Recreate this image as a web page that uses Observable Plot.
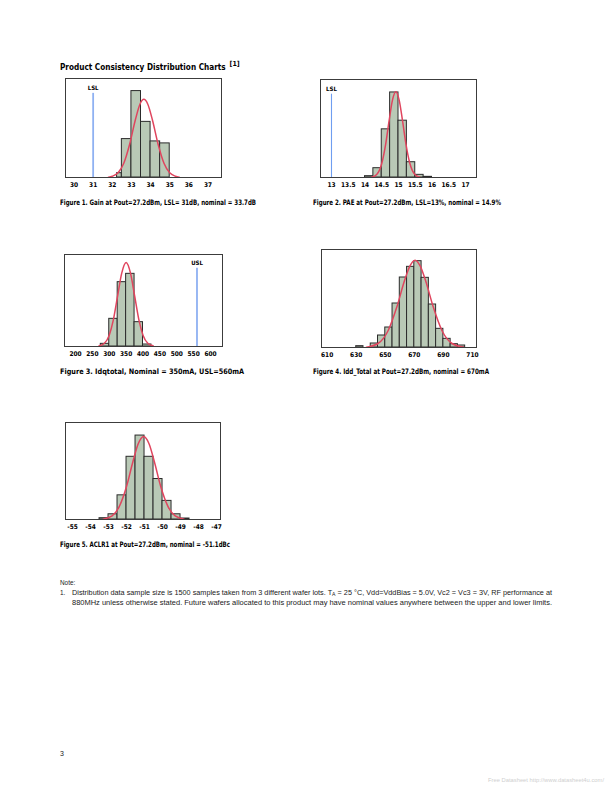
<!DOCTYPE html>
<html>
<head>
<meta charset="utf-8">
<script src="https://cdn.jsdelivr.net/npm/d3@7"></script>
<script src="https://cdn.jsdelivr.net/npm/@observablehq/plot@0.6"></script>
<style>
html, body { margin: 0; padding: 0; background: #fff; }
#page { position: relative; width: 612px; height: 792px; overflow: hidden; background: #fff; }
.chart { position: absolute; }
.chart svg { display: block; overflow: visible; }
#text { position: absolute; left: 0; top: 0; }
</style>
</head>
<body>
<div id="page"></div>
<script>
// ---------- Data ----------
// Figure 1: Gain (dB)
const gainBinStart = [32.25, 32.5, 33, 33.5, 34, 34.5];
const gainBinEnd   = [32.5, 33, 33.5, 34, 34.5, 35];
const gainCounts   = [13, 116, 261, 168, 109, 103];
const gainCurveX   = [31.8, 32.0, 32.3, 32.6, 32.9, 33.2, 33.45, 33.65, 33.85, 34.1, 34.4, 34.7, 35.0, 35.3, 35.5];
const gainCurveY   = [1, 4, 14, 43, 99, 173, 222, 236, 222, 173, 99, 43, 14, 4, 1];
const gainTickLabels = [30, 31, 32, 33, 34, 35, 36, 37];

// Figure 2: PAE (%)
const paeBinStart = [14, 14.25, 14.5, 14.75, 15, 15.25, 15.5, 15.75];
const paeBinEnd   = [14.25, 14.5, 14.75, 15, 15.25, 15.5, 15.75, 16];
const paeCounts   = [4, 28, 145, 256, 171, 46, 8, 2];
const paeCurveX   = [14.2, 14.35, 14.5, 14.62, 14.72, 14.82, 14.92, 15.02, 15.12, 15.22, 15.34, 15.49, 15.64];
const paeCurveY   = [1, 9, 42, 102, 171, 233, 258, 233, 171, 102, 42, 9, 1];
const paeTickLabels = [13, 13.5, 14, 14.5, 15, 15.5, 16, 16.5, 17];

// Figure 3: Idqtotal (mA)
const idqBinStart = [275, 300, 325, 350, 375, 400];
const idqBinEnd   = [300, 325, 350, 375, 400, 425];
const idqCounts   = [8, 83, 193, 218, 73, 6];
const idqCurveX   = [270, 285, 300, 312, 325, 337, 350, 363, 375, 388, 400, 415, 430];
const idqCurveY   = [2, 9, 34, 79, 153, 220, 252, 220, 153, 79, 34, 9, 2];
const idqTickLabels = [200, 250, 300, 350, 400, 450, 500, 550, 600];

// Figure 4: Idd_Total (mA)
const iddBinStart = [630, 640, 645, 650, 655, 660, 665, 670, 675, 680, 685, 690, 695, 700];
const iddBinEnd   = [635, 645, 650, 655, 660, 665, 670, 675, 680, 685, 690, 695, 700, 705];
const iddCounts   = [4, 12, 36, 60, 132, 210, 242, 259, 209, 129, 56, 26, 10, 6];
const iddCurveX   = [637, 645, 652, 658, 663, 667, 670.5, 674, 678, 683, 689, 696, 704];
const iddCurveY   = [1, 12, 51, 122, 197, 245, 262, 245, 197, 122, 51, 12, 1];
const iddTickLabels = [610, 630, 650, 670, 690, 710];

// Figure 5: ACLR1 (dBc)
const aclrBinStart = [-53.5, -53, -52.5, -52, -51.5, -51, -50.5, -50, -49.5, -49];
const aclrBinEnd   = [-53, -52.5, -52, -51.5, -51, -50.5, -50, -49.5, -49, -48.5];
const aclrCounts   = [4, 16, 74, 192, 257, 192, 124, 57, 16, 3];
const aclrCurveX   = [-53.3, -52.8, -52.4, -52.0, -51.65, -51.35, -51.05, -50.75, -50.45, -50.1, -49.7, -49.3, -48.8];
const aclrCurveY   = [1, 11, 40, 101, 176, 232, 254, 232, 176, 101, 40, 11, 1];
const aclrTickLabels = [-55, -54, -53, -52, -51, -50, -49, -48, -47];

const captions = [
  "Figure 1. Gain at Pout=27.2dBm, LSL= 31dB, nominal = 33.7dB",
  "Figure 2. PAE at Pout=27.2dBm, LSL=13%, nominal = 14.9%",
  "Figure 3. Idqtotal, Nominal = 350mA, USL=560mA",
  "Figure 4. Idd_Total at Pout=27.2dBm, nominal = 670mA",
  "Figure 5. ACLR1 at Pout=27.2dBm, nominal = -51.1dBc"
];

// ---------- Styles ----------
const COND = '"Liberation Sans Narrow","DejaVu Sans Condensed","Roboto Condensed",sans-serif';
const REG = '"Liberation Sans","Open Sans",sans-serif';
const BAR_FILL = "#b9c9b6";
const BAR_STROKE = "#2b2b2b";
const CURVE = "#e0455e";
const LIMIT = "#8fb1f2";
const FRAME = "#3c3c3c";
const INK = "#000";

const page = d3.select("#page");

function histChart(c) {
  const ml = 10, mr = 10, mt = 2, mb = 16;
  const fw = c.frame[2] - c.frame[0];
  const fh = c.frame[3] - c.frame[1];
  const bars = c.start.map((s, i) => ({x1: s, x2: c.end[i], n: c.counts[i]}));
  const curve = c.curveX.map((x, i) => ({x, y: c.curveY[i]}));
  const marks = [
    Plot.rectY(bars, {x1: "x1", x2: "x2", y: "n", fill: BAR_FILL, stroke: BAR_STROKE, strokeWidth: 1}),
    Plot.line(curve, {x: "x", y: "y", stroke: CURVE, strokeWidth: 1.5, curve: "monotone-x"})
  ];
  if (c.limit) {
    marks.push(Plot.ruleX([c.limit], {x: "value", y1: 0, y2: c.ymax * 0.85, stroke: c.limit.color, strokeWidth: c.limit.width}));
    marks.push(Plot.text([c.limit], {x: "value", y: c.ymax * 0.905, text: "label", fontSize: 6, fontWeight: "bold", fill: INK, fontFamily: COND}));
  }
  marks.push(Plot.frame({stroke: FRAME, strokeWidth: 1}));
  marks.push(Plot.axisX({
    ticks: c.ticks, tickSize: 3, tickPadding: 2,
    tickFormat: d => c.labels.includes(d) ? String(d) : "",
    fontSize: 6.5, fontWeight: "bold", fill: INK, stroke: null
  }));
  const svg = Plot.plot({
    width: fw + ml + mr, height: fh + mt + mb,
    marginLeft: ml, marginRight: mr, marginTop: mt, marginBottom: mb,
    x: {domain: c.domain},
    y: {domain: [0, c.ymax], axis: null},
    style: {fontFamily: COND, fontSize: "6.5px", background: "transparent", color: "#111"},
    marks
  });
  page.append("div").attr("class", "chart")
    .style("left", (c.frame[0] - ml) + "px")
    .style("top", (c.frame[1] - mt) + "px")
    .node().appendChild(svg);
}

// Figure 1
histChart({
  frame: [65, 78, 221, 177], domain: [29.556, 37.705], ymax: 299,
  start: gainBinStart, end: gainBinEnd, counts: gainCounts,
  curveX: gainCurveX, curveY: gainCurveY,
  ticks: d3.range(30, 37.6, 0.5), labels: gainTickLabels,
  limit: {value: 31, label: "LSL", color: LIMIT, width: 1.8}
});
// Figure 2
histChart({
  frame: [320, 79, 476, 177], domain: [12.672, 17.328], ymax: 295,
  start: paeBinStart, end: paeBinEnd, counts: paeCounts,
  curveX: paeCurveX, curveY: paeCurveY,
  ticks: d3.range(12.75, 17.3, 0.25), labels: paeTickLabels,
  limit: {value: 13, label: "LSL", color: "#6f9ef0", width: 1.1}
});
// Figure 3
histChart({
  frame: [64, 254, 222, 346], domain: [167.4, 635.6], ymax: 276,
  start: idqBinStart, end: idqBinEnd, counts: idqCounts,
  curveX: idqCurveX, curveY: idqCurveY,
  ticks: d3.range(175, 630, 25), labels: idqTickLabels,
  limit: {value: 560, label: "USL", color: LIMIT, width: 1.8}
});
// Figure 4
histChart({
  frame: [321, 249, 476, 347], domain: [606.1, 712.8], ymax: 294,
  start: iddBinStart, end: iddBinEnd, counts: iddCounts,
  curveX: iddCurveX, curveY: iddCurveY,
  ticks: d3.range(610, 712, 5), labels: iddTickLabels
});
// Figure 5
histChart({
  frame: [65, 422, 220, 519], domain: [-55.39, -46.78], ymax: 297,
  start: aclrBinStart, end: aclrBinEnd, counts: aclrCounts,
  curveX: aclrCurveX, curveY: aclrCurveY,
  ticks: d3.range(-55, -46.9, 0.5), labels: aclrTickLabels
});

// ---------- Page text ----------
const t = page.append("svg").attr("id", "text").attr("width", 612).attr("height", 792);
const title = t.append("text").attr("x", 60).attr("y", 69.5)
  .attr("font-family", COND).attr("font-weight", "bold").attr("font-size", 10.5)
  .attr("fill", INK).text("Product Consistency Distribution Charts");
// size the title to span the same width as the reference (about 166px)
const tw = title.node().getComputedTextLength();
if (tw > 0) title.attr("font-size", 10.5 * 166 / tw);
const supX = 60 + title.node().getComputedTextLength() + 4;
t.append("text").attr("x", supX).attr("y", 65.5)
  .attr("font-family", COND).attr("font-weight", "bold").attr("font-size", 7)
  .attr("fill", INK).text("[1]");

const capPos = [[60, 204.5, 196], [313, 204.5, 188], [60, 373.5, 184], [313, 373.5, 176], [60, 546.5, 170]];
captions.forEach((s, i) => {
  t.append("text").attr("x", capPos[i][0]).attr("y", capPos[i][1])
    .attr("font-family", COND).attr("font-weight", "bold").attr("font-size", 7.5)
    .attr("textLength", capPos[i][2]).attr("lengthAdjust", "spacingAndGlyphs").attr("fill", INK)
    .text(s);
});

const noteStyle = sel => sel.attr("font-family", REG).attr("font-size", 6.4).attr("fill", "#1a1a1a");
noteStyle(t.append("text").attr("x", 60).attr("y", 584.5)).text("Note:");
noteStyle(t.append("text").attr("x", 60).attr("y", 595)).text("1.");
const l1 = noteStyle(t.append("text").attr("x", 72).attr("y", 595))
  .attr("textLength", 480).attr("lengthAdjust", "spacingAndGlyphs");
l1.append("tspan").text("Distribution data sample size is 1500 samples taken from 3 different wafer lots. T");
l1.append("tspan").attr("font-size", 4.5).attr("dy", 1.2).text("A");
l1.append("tspan").attr("dy", -1.2).text(" = 25 \u00B0C, Vdd=VddBias = 5.0V,  Vc2 = Vc3 = 3V, RF performance at");
noteStyle(t.append("text").attr("x", 72).attr("y", 605))
  .attr("textLength", 480).attr("lengthAdjust", "spacingAndGlyphs")
  .text("880MHz unless otherwise stated. Future wafers allocated to this product may have nominal values anywhere between the upper and lower limits.");

t.append("text").attr("x", 60).attr("y", 756).attr("font-family", REG).attr("font-size", 7).attr("fill", "#1a1a1a").text("3");
t.append("text").attr("x", 488).attr("y", 782).attr("font-family", REG).attr("font-size", 5)
  .attr("textLength", 116).attr("lengthAdjust", "spacingAndGlyphs").attr("fill", "#cfcfcf")
  .text("Free Datasheet http://www.datasheet4u.com/");
</script>
</body>
</html>
